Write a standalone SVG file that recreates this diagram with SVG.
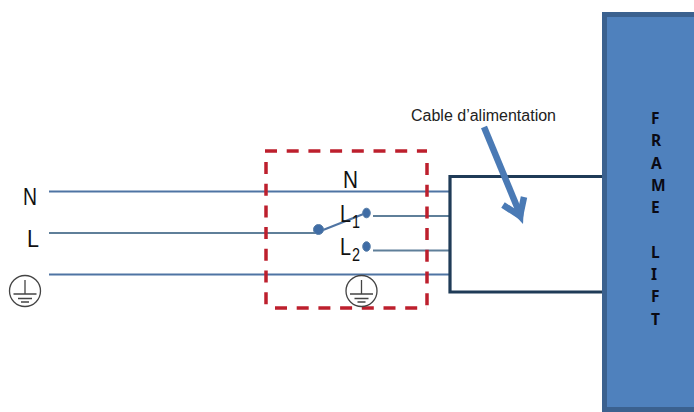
<svg xmlns="http://www.w3.org/2000/svg" width="694" height="412" viewBox="0 0 694 412">
<style>
.wire{fill:none;stroke:#4f74a3;stroke-width:2.200}
.thin{fill:none;stroke:#5f7f99;stroke-width:2}
.dark{fill:none;stroke:#1f3b57;stroke-width:3.200}
.sym{fill:none;stroke:#444;stroke-width:1.300}
.lab{font-family:"Liberation Sans",Arial,sans-serif;font-size:24px;fill:#111}
.sub{font-family:"Liberation Sans",Arial,sans-serif;font-size:18px;fill:#111}
.fr{font-family:"Noto Sans","Open Sans",sans-serif;font-weight:700;font-size:15.500px;fill:#0a0a14}
.dot{fill:#3f6ca5;stroke:#587ea8;stroke-width:1}
.red{fill:none;stroke:#bd1f2d;stroke-width:3.500;stroke-dasharray:12 9.700}
</style>
<defs>
<g id="earth"><circle cx="0" cy="0" r="15.500" class="sym"/><path class="sym" d="M0-11V3M-11.500 3H11.500M-7 7.500H7M-4 11H4"/></g>
</defs>
<rect width="694" height="412" fill="#fff"/>
<g id="connectors">
<path class="wire" d="M49 191.500H449M49 274.500H449"/>
<path class="thin" d="M49 233H318"/>
<path class="wire" d="M318 232L366 213"/>
<path class="thin" d="M373 216H449M373 250.500H449"/>
</g>
<g id="label-N"><text class="lab" x="23" y="205" textLength="14" lengthAdjust="spacingAndGlyphs">N</text></g>
<g id="label-L"><text class="lab" x="27" y="247" textLength="12" lengthAdjust="spacingAndGlyphs">L</text></g>
<g id="earth-left"><use href="#earth" x="25" y="291"/></g>
<g id="switch-box">
<path class="red" d="M265 151H427"/>
<path class="red" d="M427 163V308"/>
<path class="red" d="M275 308H427"/>
<path class="red" d="M266 162V308"/>
<text class="lab" x="343" y="188" textLength="15" lengthAdjust="spacingAndGlyphs">N</text>
<text class="lab" x="340" y="222" textLength="11" lengthAdjust="spacingAndGlyphs">L</text><text class="sub" x="352" y="228" textLength="8" lengthAdjust="spacingAndGlyphs">1</text>
<text class="lab" x="340" y="255" textLength="11" lengthAdjust="spacingAndGlyphs">L</text><text class="sub" x="352" y="261" textLength="8" lengthAdjust="spacingAndGlyphs">2</text>
<circle class="dot" cx="318.500" cy="229.500" r="5"/>
<ellipse class="dot" cx="366.500" cy="213" rx="3.800" ry="4.800"/>
<ellipse class="dot" cx="366.500" cy="246.500" rx="3.800" ry="4.800"/>
<use href="#earth" x="361.500" y="291"/>
</g>
<g id="cable"><path class="dark" d="M604 176.500H450V292H604"/></g>
<g id="cable-label">
<text x="411" y="121" font-family="'Liberation Sans',Arial,sans-serif" font-size="16px" fill="#222">Cable d’alimentation</text>
<path d="M484 127L520 214" fill="none" stroke="#4a7ab5" stroke-width="6.500"/>
<path d="M503 205L520 216L524 197" fill="none" stroke="#4a7ab5" stroke-width="6.500" stroke-linejoin="miter"/>
<path d="M510 210L523 224L524 205Z" fill="#4a7ab5"/>
</g>
<g id="frame-lift">
<rect x="604.500" y="14.500" width="95" height="395" fill="#4f81bd" stroke="#3b618f" stroke-width="5"/>
<text class="fr" x="651" y="124">F</text>
<text class="fr" x="651" y="146">R</text>
<text class="fr" x="651" y="169">A</text>
<text class="fr" x="651" y="191">M</text>
<text class="fr" x="651" y="213">E</text>
<text class="fr" x="651" y="258">L</text>
<text class="fr" x="651" y="280">I</text>
<text class="fr" x="651" y="302">F</text>
<text class="fr" x="651" y="325">T</text>
</g>
</svg>
